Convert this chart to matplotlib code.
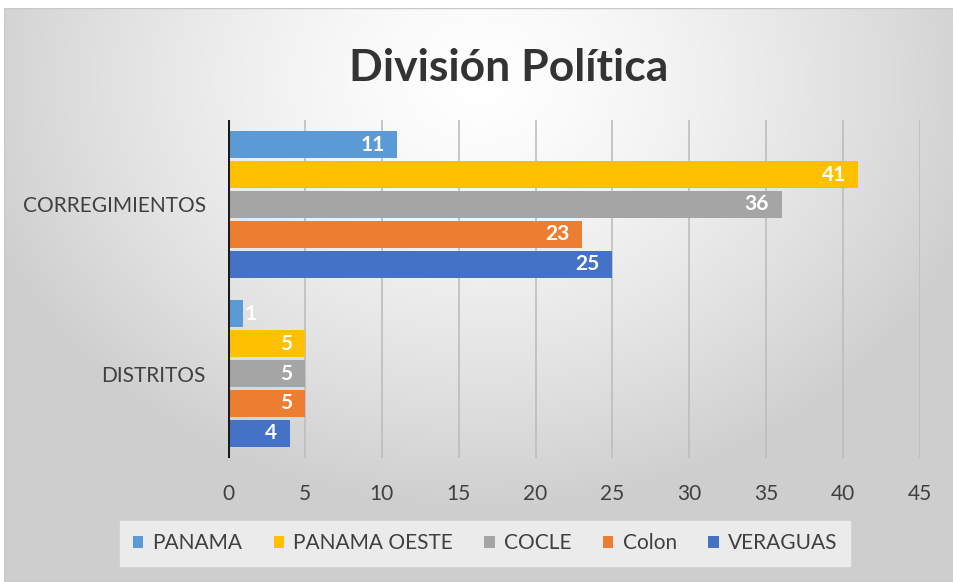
import matplotlib
matplotlib.use('Agg')
import matplotlib.pyplot as plt
import numpy as np

# data
categories = ['DISTRITOS', 'CORREGIMIENTOS']
series_names = ['PANAMA', 'PANAMA OESTE', 'COCLE', 'Colon', 'VERAGUAS']
series_values = {
    'PANAMA': [1, 11],
    'PANAMA OESTE': [5, 41],
    'COCLE': [5, 36],
    'Colon': [5, 23],
    'VERAGUAS': [4, 25],
}
x_ticks = [0, 5, 10, 15, 20, 25, 30, 35, 40, 45]
colors = ['#5B9BD5', '#FFC000', '#A5A5A5', '#ED7D31', '#4472C4']

plt.rcParams['font.family'] = ['Lato', 'DejaVu Sans']

W, H = 954, 582
fig = plt.figure(figsize=(W / 100, H / 100), dpi=100)
fig.patch.set_facecolor('white')

# radial gradient background (chart area)
bg = fig.add_axes([4 / W, 0, 1 - 4 / W, 1 - 8 / H], zorder=-10)
xx, yy = np.meshgrid(np.linspace(-1, 1, 400), np.linspace(-1, 1, 250))
r = np.sqrt((xx / 1.1) ** 2 + ((yy - 0.75) / 1.5) ** 2)
r = np.clip(r, 0, 1)
shade = 1.0 - 0.19 * r ** 1.4
bg.imshow(np.dstack([shade] * 3), aspect='auto', origin='lower', extent=[0, 1, 0, 1])
bg.set_axis_off()
frame = plt.Rectangle((0, 0), 1, 1, transform=bg.transAxes, fill=False,
                      edgecolor='#c8c8c8', linewidth=1)
bg.add_patch(frame)

ax = fig.add_axes([228 / W, 1 - 458 / H, (920 - 228) / W, (458 - 120) / H])
ax.set_facecolor('none')

n = len(series_names)
slot = 0.1765
bar_h = 0.159
y_base = np.arange(len(categories))
for i, name in enumerate(series_names):
    offs = (n - 1) / 2 * slot - i * slot
    ys = y_base + offs
    vals = series_values[name]
    ax.barh(ys, vals, height=bar_h, color=colors[i], label=name, zorder=3)
    for y, v in zip(ys, vals):
        if v < 2:
            # label does not fit inside: it sits just past the bar end
            ax.annotate(str(v), (v, y), xytext=(1, 0), textcoords='offset points',
                        ha='left', va='center', color='white', fontsize=15,
                        fontweight='bold', zorder=4)
        else:
            ax.annotate(str(v), (v, y), xytext=(-9, 0), textcoords='offset points',
                        ha='right', va='center', color='white', fontsize=15,
                        fontweight='bold', zorder=4)

ax.set_xlim(0, 45)
ax.set_ylim(-0.5, 1.5)
ax.set_xticks(x_ticks)
ax.set_yticks(y_base)
ax.set_yticklabels(categories, fontsize=15, color='#404040')
ax.tick_params(axis='x', labelsize=15, colors='#404040', length=0, pad=19)
ax.tick_params(axis='y', length=0, pad=16)
ax.grid(axis='x', color='#bdbdbd', linewidth=1.2, zorder=0)
ax.axvline(0, color='#1a1a1a', linewidth=2.2, zorder=5)
for s in ax.spines.values():
    s.set_visible(False)

fig.text(509 / W, 1 - 68 / H, 'División Política', ha='center', va='center',
         fontsize=32, fontweight='bold', color='#333333')

# legend box
leg = fig.legend(loc='center', bbox_to_anchor=(485 / W, 1 - 543 / H), ncol=5,
                 frameon=True, fontsize=15, handlelength=0.5, handleheight=0.5,
                 handletextpad=0.45, columnspacing=1.5, borderpad=0.6,
                 borderaxespad=0, fancybox=False)
leg.get_frame().set_facecolor('#ebebeb')
leg.get_frame().set_edgecolor('#ebebeb')
leg.get_frame().set_alpha(1)
for t in leg.get_texts():
    t.set_color('#404040')

fig.savefig('out.png', dpi=100)
